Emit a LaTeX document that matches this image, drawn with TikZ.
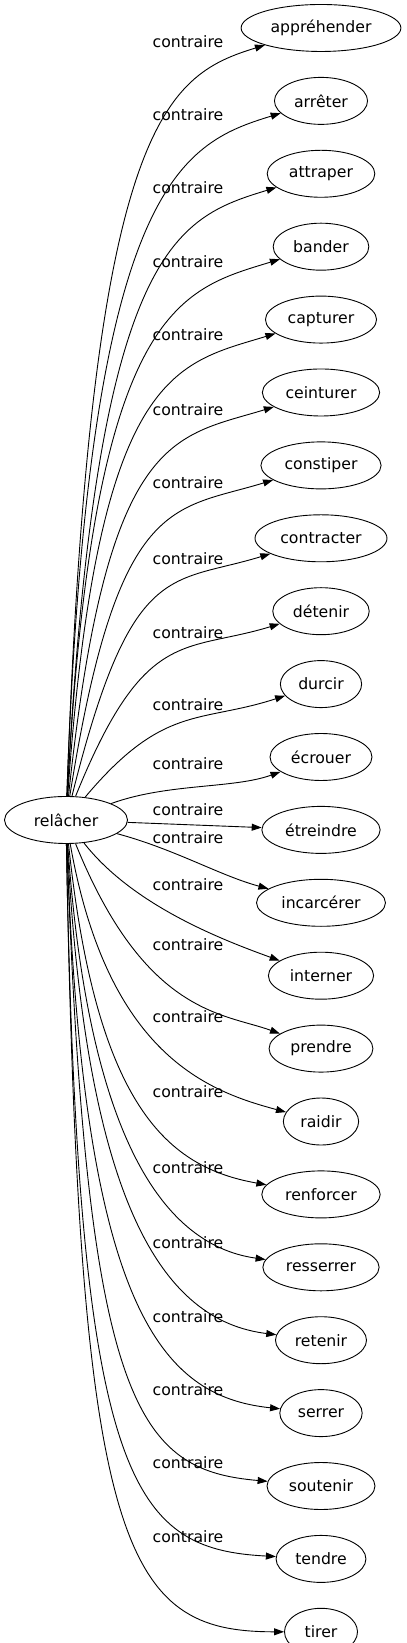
\documentclass[tikz,border=0pt]{standalone}
\usepackage{fontspec}
\setmainfont{DejaVu Sans}
\usetikzlibrary{positioning,arrows.meta,shapes.geometric}

\begin{document}
\begin{tikzpicture}[
    x=1bp, y=1bp,
    node distance = 25bp,
    word/.style = {
        ellipse, draw, line width=0.9bp,
        minimum width=73bp, minimum height=47bp,
        inner xsep=6bp, font=\fontsize{15.7bp}{18bp}\selectfont
    },
    lbl/.style = {inner sep=0pt, font=\fontsize{15.7bp}{18bp}\selectfont},
    arrow/.style = {-{Triangle[length=10bp,width=7bp]}, line width=0.9bp}
]
\useasboundingbox (0,0) rectangle (406,1643);

% Source
\node[word, minimum width=123bp] (relacher) at (66,823) {relâcher};

% Targets
\node[word] (apprehender) at (321,1615) {appréhender};
\node[word, below=of apprehender] (arreter) {arrêter};
\node[word, below=of arreter] (attraper) {attraper};
\node[word, below=of attraper] (bander) {bander};
\node[word, below=of bander] (capturer) {capturer};
\node[word, below=of capturer] (ceinturer) {ceinturer};
\node[word, below=of ceinturer] (constiper) {constiper};
\node[word, below=of constiper] (contracter) {contracter};
\node[word, below=of contracter] (detenir) {détenir};
\node[word, below=of detenir] (durcir) {durcir};
\node[word, below=of durcir] (ecrouer) {écrouer};
\node[word, below=of ecrouer] (etreindre) {étreindre};
\node[word, below=of etreindre] (incarcerer) {incarcérer};
\node[word, below=of incarcerer] (interner) {interner};
\node[word, below=of interner] (prendre) {prendre};
\node[word, below=of prendre] (raidir) {raidir};
\node[word, below=of raidir] (renforcer) {renforcer};
\node[word, below=of renforcer] (resserrer) {resserrer};
\node[word, below=of resserrer] (retenir) {retenir};
\node[word, below=of retenir] (serrer) {serrer};
\node[word, below=of serrer] (soutenir) {soutenir};
\node[word, below=of soutenir] (tendre) {tendre};
\node[word, below=of tendre] (tirer) {tirer};

% Edge labels
\node[lbl] (l-apprehender) at (188,1601) {contraire};
\node[lbl] (l-arreter) at (188,1528) {contraire};
\node[lbl] (l-attraper) at (188,1455) {contraire};
\node[lbl] (l-bander) at (188,1381) {contraire};
\node[lbl] (l-capturer) at (188,1308) {contraire};
\node[lbl] (l-ceinturer) at (188,1233) {contraire};
\node[lbl] (l-constiper) at (188,1160) {contraire};
\node[lbl] (l-contracter) at (188,1084) {contraire};
\node[lbl] (l-detenir) at (188,1010) {contraire};
\node[lbl] (l-durcir) at (188,938) {contraire};
\node[lbl] (l-ecrouer) at (188,879) {contraire};
\node[lbl] (l-etreindre) at (188,833) {contraire};
\node[lbl] (l-incarcerer) at (188,805) {contraire};
\node[lbl] (l-interner) at (188,758) {contraire};
\node[lbl] (l-prendre) at (188,698) {contraire};
\node[lbl] (l-raidir) at (188,626) {contraire};
\node[lbl] (l-renforcer) at (188,551) {contraire};
\node[lbl] (l-resserrer) at (188,475) {contraire};
\node[lbl] (l-retenir) at (188,400) {contraire};
\node[lbl] (l-serrer) at (188,326) {contraire};
\node[lbl] (l-soutenir) at (188,253) {contraire};
\node[lbl] (l-tendre) at (188,180) {contraire};
\node[lbl] (l-tirer) at (188,106) {contraire};

% Arrows
\draw[arrow] (relacher) to[out=88, in=197, out distance=673bp, in distance=105bp] (apprehender);
\draw[arrow] (relacher) to[out=88, in=197, out distance=612bp, in distance=105bp] (arreter);
\draw[arrow] (relacher) to[out=87, in=197, out distance=551bp, in distance=105bp] (attraper);
\draw[arrow] (relacher) to[out=87, in=197, out distance=490bp, in distance=105bp] (bander);
\draw[arrow] (relacher) to[out=86, in=197, out distance=428bp, in distance=105bp] (capturer);
\draw[arrow] (relacher) to[out=84, in=197, out distance=367bp, in distance=105bp] (ceinturer);
\draw[arrow] (relacher) to[out=81, in=197, out distance=306bp, in distance=105bp] (constiper);
\draw[arrow] (relacher) to[out=76, in=197, out distance=245bp, in distance=105bp] (contracter);
\draw[arrow] (relacher) to[out=68, in=197, out distance=184bp, in distance=100bp] (detenir);
\draw[arrow] (relacher) to[out=50, in=198, out distance=122bp, in distance=90bp] (durcir);
\draw[arrow] (relacher) to[out=20, in=200, out distance=60bp, in distance=50bp] (ecrouer);
\draw[arrow] (relacher) -- (etreindre);
\draw[arrow] (relacher) to[out=-15, in=165, out distance=60bp, in distance=50bp] (incarcerer);
\draw[arrow] (relacher) to[out=-52, in=160, out distance=80bp, in distance=60bp] (interner);
\draw[arrow] (relacher) to[out=-68, in=160, out distance=185bp, in distance=60bp] (prendre);
\draw[arrow] (relacher) to[out=-80, in=165, out distance=215bp, in distance=80bp] (raidir);
\draw[arrow] (relacher) to[out=-84, in=170, out distance=265bp, in distance=100bp] (renforcer);
\draw[arrow] (relacher) to[out=-86, in=172, out distance=280bp, in distance=110bp] (resserrer);
\draw[arrow] (relacher) to[out=-87, in=173, out distance=360bp, in distance=115bp] (retenir);
\draw[arrow] (relacher) to[out=-88, in=174, out distance=465bp, in distance=120bp] (serrer);
\draw[arrow] (relacher) to[out=-88, in=175, out distance=565bp, in distance=130bp] (soutenir);
\draw[arrow] (relacher) to[out=-89, in=177, out distance=640bp, in distance=145bp] (tendre);
\draw[arrow] (relacher) to[out=-89, in=180, out distance=710bp, in distance=160bp] (tirer);

\end{tikzpicture}
\end{document}
